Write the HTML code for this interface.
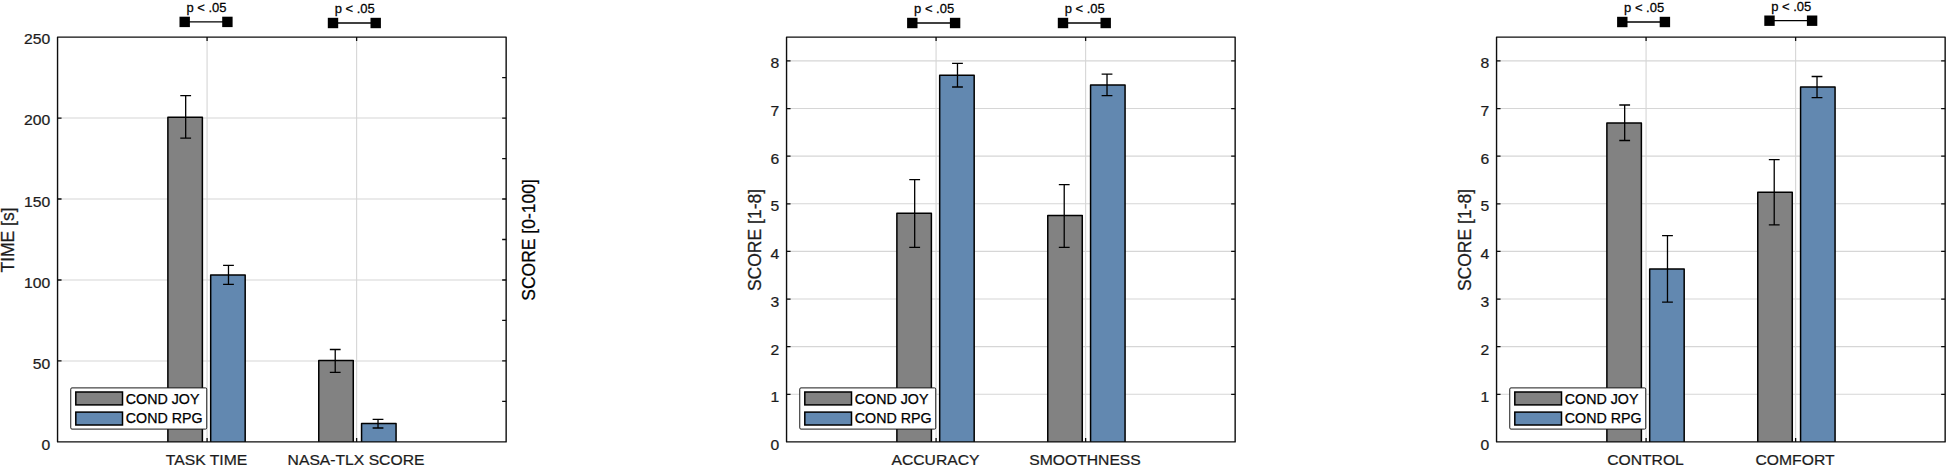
<!DOCTYPE html>
<html><head><meta charset="utf-8"><title>Results</title>
<style>
html,body{margin:0;padding:0;background:#fff;}
svg{display:block;font-family:"Liberation Sans",Arial,sans-serif;}
text{stroke-width:0.25px;}
text[fill="#1c1c1c"]{stroke:#1c1c1c;}
text[fill="#000"]{stroke:#000;}
</style></head><body>
<svg width="1948" height="469" viewBox="0 0 1948 469">
<rect width="1948" height="469" fill="#fff"/>
<line x1="57.55" y1="360.94" x2="506.15" y2="360.94" stroke="#d6d6d6" stroke-width="1.1"/>
<line x1="57.55" y1="279.98" x2="506.15" y2="279.98" stroke="#d6d6d6" stroke-width="1.1"/>
<line x1="57.55" y1="199.02" x2="506.15" y2="199.02" stroke="#d6d6d6" stroke-width="1.1"/>
<line x1="57.55" y1="118.06" x2="506.15" y2="118.06" stroke="#d6d6d6" stroke-width="1.1"/>
<line x1="207.08" y1="37.10" x2="207.08" y2="441.90" stroke="#d6d6d6" stroke-width="1.1"/>
<line x1="356.62" y1="37.10" x2="356.62" y2="441.90" stroke="#d6d6d6" stroke-width="1.1"/>
<path d="M167.88 441.90V117.20h34.50V441.90" fill="#828282" stroke="#000" stroke-width="1.5" stroke-linejoin="round"/>
<path d="M185.68 95.60V138.20M180.28 95.60h10.8M180.28 138.20h10.8" stroke="#000" stroke-width="1.3" fill="none"/>
<path d="M210.68 441.90V275.00h34.50V441.90" fill="#6288b0" stroke="#000" stroke-width="1.5" stroke-linejoin="round"/>
<path d="M228.48 265.40V284.30M223.08 265.40h10.8M223.08 284.30h10.8" stroke="#000" stroke-width="1.3" fill="none"/>
<path d="M318.77 441.90V360.50h34.50V441.90" fill="#828282" stroke="#000" stroke-width="1.5" stroke-linejoin="round"/>
<path d="M335.22 349.50V372.30M329.82 349.50h10.8M329.82 372.30h10.8" stroke="#000" stroke-width="1.3" fill="none"/>
<path d="M361.57 441.90V423.60h34.50V441.90" fill="#6288b0" stroke="#000" stroke-width="1.5" stroke-linejoin="round"/>
<path d="M378.02 419.40V428.00M372.62 419.40h10.8M372.62 428.00h10.8" stroke="#000" stroke-width="1.3" fill="none"/>
<rect x="57.55" y="37.10" width="448.60" height="404.80" fill="none" stroke="#0d0d0d" stroke-width="1.4" stroke-linejoin="round"/>
<path d="M57.55 360.94h4.0M57.55 279.98h4.0M57.55 199.02h4.0M57.55 118.06h4.0M506.15 401.42h-4.0M506.15 360.94h-4.0M506.15 320.46h-4.0M506.15 279.98h-4.0M506.15 239.50h-4.0M506.15 199.02h-4.0M506.15 158.54h-4.0M506.15 118.06h-4.0M506.15 77.58h-4.0M207.08 37.10v4.0M207.08 441.90v-4.0M356.62 37.10v4.0M356.62 441.90v-4.0" stroke="#0d0d0d" stroke-width="1.3" fill="none"/>
<text transform="translate(50.15 450.10) scale(1 0.96)" font-size="15.7" text-anchor="end" fill="#1c1c1c">0</text>
<text transform="translate(50.15 368.92) scale(1 0.96)" font-size="15.7" text-anchor="end" fill="#1c1c1c">50</text>
<text transform="translate(50.15 287.74) scale(1 0.96)" font-size="15.7" text-anchor="end" fill="#1c1c1c">100</text>
<text transform="translate(50.15 206.56) scale(1 0.96)" font-size="15.7" text-anchor="end" fill="#1c1c1c">150</text>
<text transform="translate(50.15 125.38) scale(1 0.96)" font-size="15.7" text-anchor="end" fill="#1c1c1c">200</text>
<text transform="translate(50.15 44.20) scale(1 0.96)" font-size="15.7" text-anchor="end" fill="#1c1c1c">250</text>
<text transform="translate(206.48 465.30) scale(1 0.98)" font-size="15.7" text-anchor="middle" fill="#1c1c1c">TASK TIME</text>
<text transform="translate(356.02 465.30) scale(1 0.98)" font-size="15.7" text-anchor="middle" fill="#1c1c1c">NASA-TLX SCORE</text>
<text transform="translate(14.00 240.00) rotate(-90) scale(1 1)" font-size="17.5" text-anchor="middle" fill="#1c1c1c">TIME [s]</text>
<text transform="translate(534.60 240.00) rotate(-90) scale(1 1)" font-size="17.5" text-anchor="middle" fill="#000">SCORE [0-100]</text>
<rect x="70.75" y="387.90" width="136" height="41.2" rx="1.2" fill="#fff" stroke="#1a1a1a" stroke-width="1"/>
<rect x="75.80" y="392" width="46.7" height="12.9" fill="#828282" stroke="#000" stroke-width="1.5"/>
<rect x="75.80" y="412.1" width="46.7" height="12.9" fill="#6288b0" stroke="#000" stroke-width="1.5"/>
<text transform="translate(125.75 404.30) scale(1 1)" font-size="14.25" fill="#000">COND JOY</text>
<text transform="translate(125.75 422.90) scale(1 1)" font-size="14.25" fill="#000">COND RPG</text>
<line x1="184.70" y1="21.90" x2="227.40" y2="21.90" stroke="#000" stroke-width="1.3"/>
<rect x="179.50" y="16.70" width="10.4" height="10.4" fill="#000"/>
<rect x="222.20" y="16.70" width="10.4" height="10.4" fill="#000"/>
<text transform="translate(186.50 12.00) scale(1 1.01)" font-size="13" fill="#000">p &lt; .05</text>
<line x1="333.00" y1="23.00" x2="375.70" y2="23.00" stroke="#000" stroke-width="1.3"/>
<rect x="327.80" y="17.80" width="10.4" height="10.4" fill="#000"/>
<rect x="370.50" y="17.80" width="10.4" height="10.4" fill="#000"/>
<text transform="translate(334.70 13.00) scale(1 1.01)" font-size="13" fill="#000">p &lt; .05</text>
<line x1="786.55" y1="394.28" x2="1235.15" y2="394.28" stroke="#d6d6d6" stroke-width="1.1"/>
<line x1="786.55" y1="346.65" x2="1235.15" y2="346.65" stroke="#d6d6d6" stroke-width="1.1"/>
<line x1="786.55" y1="299.03" x2="1235.15" y2="299.03" stroke="#d6d6d6" stroke-width="1.1"/>
<line x1="786.55" y1="251.41" x2="1235.15" y2="251.41" stroke="#d6d6d6" stroke-width="1.1"/>
<line x1="786.55" y1="203.78" x2="1235.15" y2="203.78" stroke="#d6d6d6" stroke-width="1.1"/>
<line x1="786.55" y1="156.16" x2="1235.15" y2="156.16" stroke="#d6d6d6" stroke-width="1.1"/>
<line x1="786.55" y1="108.54" x2="1235.15" y2="108.54" stroke="#d6d6d6" stroke-width="1.1"/>
<line x1="786.55" y1="60.91" x2="1235.15" y2="60.91" stroke="#d6d6d6" stroke-width="1.1"/>
<line x1="936.08" y1="37.10" x2="936.08" y2="441.90" stroke="#d6d6d6" stroke-width="1.1"/>
<line x1="1085.62" y1="37.10" x2="1085.62" y2="441.90" stroke="#d6d6d6" stroke-width="1.1"/>
<path d="M896.88 441.90V213.20h34.50V441.90" fill="#828282" stroke="#000" stroke-width="1.5" stroke-linejoin="round"/>
<path d="M914.68 179.60V247.40M909.28 179.60h10.8M909.28 247.40h10.8" stroke="#000" stroke-width="1.3" fill="none"/>
<path d="M939.68 441.90V75.30h34.50V441.90" fill="#6288b0" stroke="#000" stroke-width="1.5" stroke-linejoin="round"/>
<path d="M957.48 63.40V87.00M952.08 63.40h10.8M952.08 87.00h10.8" stroke="#000" stroke-width="1.3" fill="none"/>
<path d="M1047.77 441.90V215.60h34.50V441.90" fill="#828282" stroke="#000" stroke-width="1.5" stroke-linejoin="round"/>
<path d="M1064.22 184.60V247.40M1058.82 184.60h10.8M1058.82 247.40h10.8" stroke="#000" stroke-width="1.3" fill="none"/>
<path d="M1090.57 441.90V85.10h34.50V441.90" fill="#6288b0" stroke="#000" stroke-width="1.5" stroke-linejoin="round"/>
<path d="M1107.02 74.20V95.70M1101.62 74.20h10.8M1101.62 95.70h10.8" stroke="#000" stroke-width="1.3" fill="none"/>
<rect x="786.55" y="37.10" width="448.60" height="404.80" fill="none" stroke="#0d0d0d" stroke-width="1.4" stroke-linejoin="round"/>
<path d="M786.55 394.28h4.0M786.55 346.65h4.0M786.55 299.03h4.0M786.55 251.41h4.0M786.55 203.78h4.0M786.55 156.16h4.0M786.55 108.54h4.0M786.55 60.91h4.0M1235.15 394.28h-4.0M1235.15 346.65h-4.0M1235.15 299.03h-4.0M1235.15 251.41h-4.0M1235.15 203.78h-4.0M1235.15 156.16h-4.0M1235.15 108.54h-4.0M1235.15 60.91h-4.0M936.08 37.10v4.0M936.08 441.90v-4.0M1085.62 37.10v4.0M1085.62 441.90v-4.0" stroke="#0d0d0d" stroke-width="1.3" fill="none"/>
<text transform="translate(779.15 450.10) scale(1 0.96)" font-size="15.7" text-anchor="end" fill="#1c1c1c">0</text>
<text transform="translate(779.15 402.34) scale(1 0.96)" font-size="15.7" text-anchor="end" fill="#1c1c1c">1</text>
<text transform="translate(779.15 354.58) scale(1 0.96)" font-size="15.7" text-anchor="end" fill="#1c1c1c">2</text>
<text transform="translate(779.15 306.82) scale(1 0.96)" font-size="15.7" text-anchor="end" fill="#1c1c1c">3</text>
<text transform="translate(779.15 259.06) scale(1 0.96)" font-size="15.7" text-anchor="end" fill="#1c1c1c">4</text>
<text transform="translate(779.15 211.29) scale(1 0.96)" font-size="15.7" text-anchor="end" fill="#1c1c1c">5</text>
<text transform="translate(779.15 163.53) scale(1 0.96)" font-size="15.7" text-anchor="end" fill="#1c1c1c">6</text>
<text transform="translate(779.15 115.77) scale(1 0.96)" font-size="15.7" text-anchor="end" fill="#1c1c1c">7</text>
<text transform="translate(779.15 68.01) scale(1 0.96)" font-size="15.7" text-anchor="end" fill="#1c1c1c">8</text>
<text transform="translate(935.48 465.30) scale(1 0.98)" font-size="15.7" text-anchor="middle" fill="#1c1c1c">ACCURACY</text>
<text transform="translate(1085.02 465.30) scale(1 0.98)" font-size="15.7" text-anchor="middle" fill="#1c1c1c">SMOOTHNESS</text>
<text transform="translate(760.70 240.00) rotate(-90) scale(1 1)" font-size="17.5" text-anchor="middle" fill="#1c1c1c">SCORE [1-8]</text>
<rect x="799.75" y="387.90" width="136" height="41.2" rx="1.2" fill="#fff" stroke="#1a1a1a" stroke-width="1"/>
<rect x="804.80" y="392" width="46.7" height="12.9" fill="#828282" stroke="#000" stroke-width="1.5"/>
<rect x="804.80" y="412.1" width="46.7" height="12.9" fill="#6288b0" stroke="#000" stroke-width="1.5"/>
<text transform="translate(854.75 404.30) scale(1 1)" font-size="14.25" fill="#000">COND JOY</text>
<text transform="translate(854.75 422.90) scale(1 1)" font-size="14.25" fill="#000">COND RPG</text>
<line x1="912.30" y1="23.00" x2="955.10" y2="23.00" stroke="#000" stroke-width="1.3"/>
<rect x="907.10" y="17.80" width="10.4" height="10.4" fill="#000"/>
<rect x="949.90" y="17.80" width="10.4" height="10.4" fill="#000"/>
<text transform="translate(914.10 13.00) scale(1 1.01)" font-size="13" fill="#000">p &lt; .05</text>
<line x1="1063.00" y1="23.00" x2="1105.70" y2="23.00" stroke="#000" stroke-width="1.3"/>
<rect x="1057.80" y="17.80" width="10.4" height="10.4" fill="#000"/>
<rect x="1100.50" y="17.80" width="10.4" height="10.4" fill="#000"/>
<text transform="translate(1064.70 13.00) scale(1 1.01)" font-size="13" fill="#000">p &lt; .05</text>
<line x1="1496.55" y1="394.28" x2="1945.15" y2="394.28" stroke="#d6d6d6" stroke-width="1.1"/>
<line x1="1496.55" y1="346.65" x2="1945.15" y2="346.65" stroke="#d6d6d6" stroke-width="1.1"/>
<line x1="1496.55" y1="299.03" x2="1945.15" y2="299.03" stroke="#d6d6d6" stroke-width="1.1"/>
<line x1="1496.55" y1="251.41" x2="1945.15" y2="251.41" stroke="#d6d6d6" stroke-width="1.1"/>
<line x1="1496.55" y1="203.78" x2="1945.15" y2="203.78" stroke="#d6d6d6" stroke-width="1.1"/>
<line x1="1496.55" y1="156.16" x2="1945.15" y2="156.16" stroke="#d6d6d6" stroke-width="1.1"/>
<line x1="1496.55" y1="108.54" x2="1945.15" y2="108.54" stroke="#d6d6d6" stroke-width="1.1"/>
<line x1="1496.55" y1="60.91" x2="1945.15" y2="60.91" stroke="#d6d6d6" stroke-width="1.1"/>
<line x1="1646.08" y1="37.10" x2="1646.08" y2="441.90" stroke="#d6d6d6" stroke-width="1.1"/>
<line x1="1795.62" y1="37.10" x2="1795.62" y2="441.90" stroke="#d6d6d6" stroke-width="1.1"/>
<path d="M1606.88 441.90V122.90h34.50V441.90" fill="#828282" stroke="#000" stroke-width="1.5" stroke-linejoin="round"/>
<path d="M1624.68 105.00V140.50M1619.28 105.00h10.8M1619.28 140.50h10.8" stroke="#000" stroke-width="1.3" fill="none"/>
<path d="M1649.68 441.90V269.00h34.50V441.90" fill="#6288b0" stroke="#000" stroke-width="1.5" stroke-linejoin="round"/>
<path d="M1667.48 235.70V302.20M1662.08 235.70h10.8M1662.08 302.20h10.8" stroke="#000" stroke-width="1.3" fill="none"/>
<path d="M1757.77 441.90V192.20h34.50V441.90" fill="#828282" stroke="#000" stroke-width="1.5" stroke-linejoin="round"/>
<path d="M1774.22 159.60V224.90M1768.82 159.60h10.8M1768.82 224.90h10.8" stroke="#000" stroke-width="1.3" fill="none"/>
<path d="M1800.57 441.90V87.10h34.50V441.90" fill="#6288b0" stroke="#000" stroke-width="1.5" stroke-linejoin="round"/>
<path d="M1817.02 76.50V97.60M1811.62 76.50h10.8M1811.62 97.60h10.8" stroke="#000" stroke-width="1.3" fill="none"/>
<rect x="1496.55" y="37.10" width="448.60" height="404.80" fill="none" stroke="#0d0d0d" stroke-width="1.4" stroke-linejoin="round"/>
<path d="M1496.55 394.28h4.0M1496.55 346.65h4.0M1496.55 299.03h4.0M1496.55 251.41h4.0M1496.55 203.78h4.0M1496.55 156.16h4.0M1496.55 108.54h4.0M1496.55 60.91h4.0M1945.15 394.28h-4.0M1945.15 346.65h-4.0M1945.15 299.03h-4.0M1945.15 251.41h-4.0M1945.15 203.78h-4.0M1945.15 156.16h-4.0M1945.15 108.54h-4.0M1945.15 60.91h-4.0M1646.08 37.10v4.0M1646.08 441.90v-4.0M1795.62 37.10v4.0M1795.62 441.90v-4.0" stroke="#0d0d0d" stroke-width="1.3" fill="none"/>
<text transform="translate(1489.15 450.10) scale(1 0.96)" font-size="15.7" text-anchor="end" fill="#1c1c1c">0</text>
<text transform="translate(1489.15 402.34) scale(1 0.96)" font-size="15.7" text-anchor="end" fill="#1c1c1c">1</text>
<text transform="translate(1489.15 354.58) scale(1 0.96)" font-size="15.7" text-anchor="end" fill="#1c1c1c">2</text>
<text transform="translate(1489.15 306.82) scale(1 0.96)" font-size="15.7" text-anchor="end" fill="#1c1c1c">3</text>
<text transform="translate(1489.15 259.06) scale(1 0.96)" font-size="15.7" text-anchor="end" fill="#1c1c1c">4</text>
<text transform="translate(1489.15 211.29) scale(1 0.96)" font-size="15.7" text-anchor="end" fill="#1c1c1c">5</text>
<text transform="translate(1489.15 163.53) scale(1 0.96)" font-size="15.7" text-anchor="end" fill="#1c1c1c">6</text>
<text transform="translate(1489.15 115.77) scale(1 0.96)" font-size="15.7" text-anchor="end" fill="#1c1c1c">7</text>
<text transform="translate(1489.15 68.01) scale(1 0.96)" font-size="15.7" text-anchor="end" fill="#1c1c1c">8</text>
<text transform="translate(1645.48 465.30) scale(1 0.98)" font-size="15.7" text-anchor="middle" fill="#1c1c1c">CONTROL</text>
<text transform="translate(1795.02 465.30) scale(1 0.98)" font-size="15.7" text-anchor="middle" fill="#1c1c1c">COMFORT</text>
<text transform="translate(1470.50 240.00) rotate(-90) scale(1 1)" font-size="17.5" text-anchor="middle" fill="#1c1c1c">SCORE [1-8]</text>
<rect x="1509.75" y="387.90" width="136" height="41.2" rx="1.2" fill="#fff" stroke="#1a1a1a" stroke-width="1"/>
<rect x="1514.80" y="392" width="46.7" height="12.9" fill="#828282" stroke="#000" stroke-width="1.5"/>
<rect x="1514.80" y="412.1" width="46.7" height="12.9" fill="#6288b0" stroke="#000" stroke-width="1.5"/>
<text transform="translate(1564.75 404.30) scale(1 1)" font-size="14.25" fill="#000">COND JOY</text>
<text transform="translate(1564.75 422.90) scale(1 1)" font-size="14.25" fill="#000">COND RPG</text>
<line x1="1622.30" y1="22.00" x2="1664.90" y2="22.00" stroke="#000" stroke-width="1.3"/>
<rect x="1617.10" y="16.80" width="10.4" height="10.4" fill="#000"/>
<rect x="1659.70" y="16.80" width="10.4" height="10.4" fill="#000"/>
<text transform="translate(1624.10 12.00) scale(1 1.01)" font-size="13" fill="#000">p &lt; .05</text>
<line x1="1769.50" y1="20.70" x2="1812.10" y2="20.70" stroke="#000" stroke-width="1.3"/>
<rect x="1764.30" y="15.50" width="10.4" height="10.4" fill="#000"/>
<rect x="1806.90" y="15.50" width="10.4" height="10.4" fill="#000"/>
<text transform="translate(1771.20 10.75) scale(1 1.01)" font-size="13" fill="#000">p &lt; .05</text>
</svg>
</body></html>
